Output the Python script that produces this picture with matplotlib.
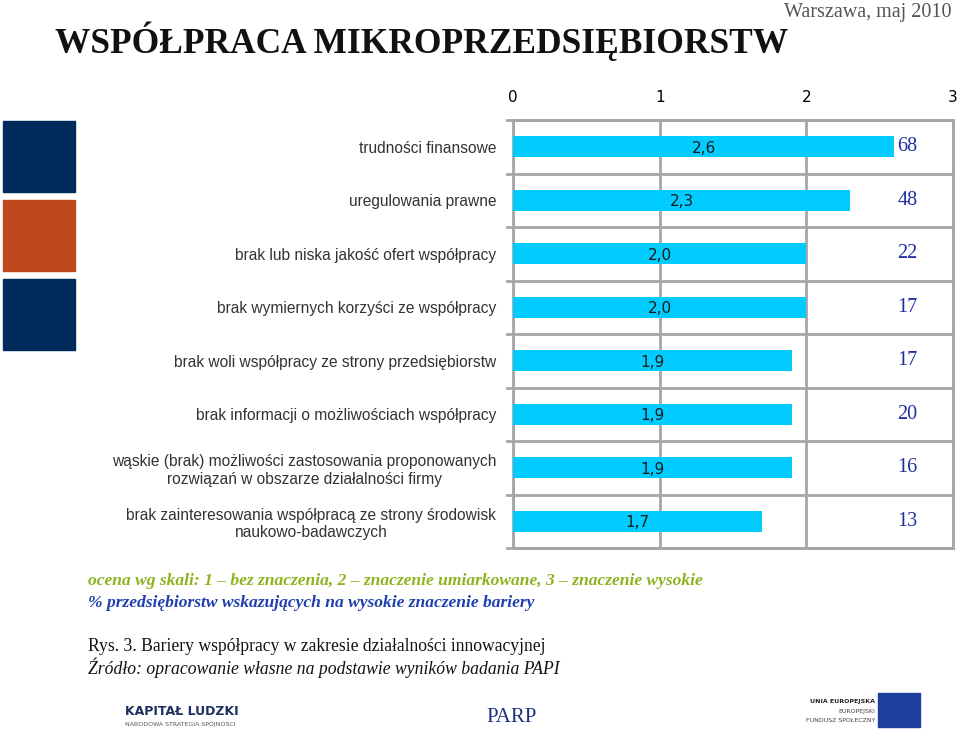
import matplotlib.pyplot as plt
from matplotlib.patches import Rectangle

categories = [
    'trudności finansowe',
    'uregulowania prawne',
    'brak lub niska jakość ofert współpracy',
    'brak wymiernych korzyści ze współpracy',
    'brak woli współpracy ze strony przedsiębiorstw',
    'brak informacji o możliwościach współpracy',
    'wąskie (brak) możliwości zastosowania proponowanych\nrozwiązań w obszarze działalności firmy',
    'brak zainteresowania współpracą ze strony środowisk\nnaukowo-badawczych',
]
ocena = [2.6, 2.3, 2.0, 2.0, 1.9, 1.9, 1.9, 1.7]
procent = [68, 48, 22, 17, 17, 20, 16, 13]
x_ticks = [0, 1, 2, 3]

grid_col = '#a6a6a6'
bar_col = '#00ccff'
blue_txt = '#1f2f9f'

fig = plt.figure(figsize=(9.6, 7.38), dpi=100)

# decorative squares on the left
for y0, c in [(121, '#002b5c'), (200, '#c0481f'), (279, '#002b5c')]:
    fig.patches.append(Rectangle((3 / 960, 1 - (y0 + 71) / 738), 72 / 960, 71 / 738,
                                 transform=fig.transFigure, color=c))

fig.text(55 / 960, 1 - 53 / 738, 'WSPÓŁPRACA MIKROPRZEDSIĘBIORSTW', family='Liberation Serif',
         weight='bold', fontsize=25.5, color='#111111', va='baseline')
fig.text(952 / 960, 1 - 17 / 738, 'Warszawa, maj 2010', family='Liberation Serif',
         fontsize=14.5, color='#555555', ha='right', va='baseline')

ax = fig.add_axes([513 / 960, 1 - 548 / 738, 440 / 960, 428 / 738])
y = list(range(len(categories)))
ax.barh(y, ocena, height=0.39, color=bar_col, zorder=3)
ax.set_xlim(0, 3)
ax.set_ylim(len(categories) - 0.5, -0.5)

for i, v in enumerate(ocena):
    ax.text(v / 2, i + 0.03, f'{v:.1f}'.replace('.', ','), ha='center', va='center',
            family='DejaVu Sans', fontsize=11, color='#1a1a1a', zorder=4)
    ax.text(2.69, i, str(procent[i]), ha='center', va='center',
            family='Liberation Serif', fontsize=14.5, color=blue_txt, zorder=4)

# table-like grid
for xv in x_ticks:
    ax.axvline(xv, color=grid_col, lw=2, zorder=1)
for k in range(len(categories) + 1):
    ax.plot([-0.04, 3], [k - 0.5, k - 0.5], color=grid_col, lw=2, clip_on=False, zorder=2)
for s in ax.spines.values():
    s.set_color(grid_col)
    s.set_linewidth(2)

ax.xaxis.tick_top()
ax.set_xticks(x_ticks)
ax.set_xticklabels([str(t) for t in x_ticks], family='DejaVu Sans', fontsize=11)
ax.tick_params(axis='x', length=0, pad=11)
ax.set_yticks(y)
ax.set_yticklabels(categories, family='Liberation Sans', fontsize=11.2, color='#333333',
                   multialignment='center')
ax.tick_params(axis='y', length=0, pad=12)

# notes under the chart
fig.text(88 / 960, 1 - 585 / 738,
         'ocena wg skali: 1 – bez znaczenia, 2 – znaczenie umiarkowane, 3 – znaczenie wysokie',
         family='Liberation Serif', style='italic', weight='bold', fontsize=12.6,
         color='#8db31e', va='baseline')
fig.text(88 / 960, 1 - 607 / 738, '% przedsiębiorstw wskazujących na wysokie znaczenie bariery',
         family='Liberation Serif', style='italic', weight='bold', fontsize=12.6,
         color='#1f3faf', va='baseline')
fig.text(88 / 960, 1 - 651 / 738, 'Rys. 3. Bariery współpracy w zakresie działalności innowacyjnej',
         family='Liberation Serif', fontsize=12.7, color='#111111', va='baseline')
fig.text(88 / 960, 1 - 674 / 738, 'Źródło: opracowanie własne na podstawie wyników badania PAPI',
         family='Liberation Serif', style='italic', fontsize=12.7, color='#111111', va='baseline')

# logos (simplified)
fig.text(125 / 960, 1 - 715 / 738, 'KAPITAŁ LUDZKI', family='DejaVu Sans', weight='bold',
         fontsize=9, color='#1f2f5f', va='baseline')
fig.text(125 / 960, 1 - 726 / 738, 'NARODOWA STRATEGIA SPÓJNOŚCI', family='DejaVu Sans',
         fontsize=4.5, color='#555555', va='baseline')
fig.text(486 / 960, 1 - 722 / 738, 'PARP', family='Liberation Serif', fontsize=15,
         color='#1f2f7f', va='baseline')
fig.text(875 / 960, 1 - 703 / 738, 'UNIA EUROPEJSKA', family='DejaVu Sans', weight='bold',
         fontsize=4.5, color='#222222', ha='right', va='baseline')
fig.text(875 / 960, 1 - 713 / 738, 'EUROPEJSKI', family='DejaVu Sans',
         fontsize=4.5, color='#444444', ha='right', va='baseline')
fig.text(875 / 960, 1 - 722 / 738, 'FUNDUSZ SPOŁECZNY', family='DejaVu Sans',
         fontsize=4.5, color='#444444', ha='right', va='baseline')
fig.patches.append(Rectangle((878 / 960, 1 - 727 / 738), 42 / 960, 34 / 738,
                             transform=fig.transFigure, color='#1f3f9f'))

fig.savefig('out.png', dpi=100)
